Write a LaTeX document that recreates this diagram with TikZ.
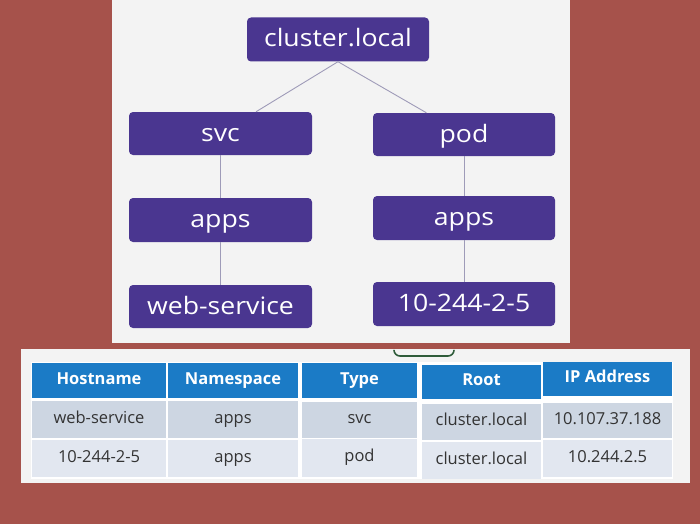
\documentclass[tikz,border=0pt]{standalone}
\usepackage{fontspec}
\setmainfont{Open Sans}
\newfontfamily\treefont[FakeStretch=1.11]{Open Sans}
\definecolor{bgred}{HTML}{A6524B}
\definecolor{panel}{HTML}{F3F3F3}
\definecolor{tpurple}{HTML}{4A3690}
\definecolor{tline}{HTML}{9E9BB8}
\definecolor{hblue}{HTML}{1B7BC6}
\definecolor{rowa}{HTML}{CDD6E2}
\definecolor{rowb}{HTML}{E2E7F0}
\definecolor{tdark}{HTML}{333333}
\definecolor{gdark}{HTML}{2F5C3A}
\tikzset{
  tnode/.style={fill=tpurple, rounded corners=4pt, text=white, inner sep=0pt,
    minimum width=182pt, minimum height=44pt,
    font=\treefont\fontsize{24}{28}\selectfont,
    text height=18pt, text depth=3pt},
  tedge/.style={draw=tline, line width=0.9pt},
  cell/.style 2 args={inner sep=0pt, minimum width=#1, minimum height=#2,
    text height=12pt, text depth=4.5pt},
  hcell/.style={fill=hblue, text=white, font=\bfseries\fontsize{16.5}{19}\selectfont},
  acell/.style={fill=rowa, text=tdark, font=\fontsize{16.5}{19}\selectfont},
  bcell/.style={fill=rowb, text=tdark, font=\fontsize{16.5}{19}\selectfont},
}
\begin{document}
\begin{tikzpicture}[x=1pt,y=-1pt]
\useasboundingbox (0,0) rectangle (700,524);
\fill[bgred] (0,0) rectangle (700,524);
\fill[panel] (112,0) rectangle (570,343);
\fill[panel] (21,349) rectangle (690,483);
\fill[white] (31,362) rectangle (673,479);

% tree
\node[tnode] (root) at (338,39.5) {cluster.local};
\node[tnode, minimum width=183pt, minimum height=43pt] (svc) at (220.5,133.5) {svc};
\node[tnode, minimum height=43pt] (pod) at (464,134.5) {pod};
\node[tnode, minimum width=183pt] (appsL) at (220.5,220) {apps};
\node[tnode] (appsR) at (464,218) {apps};
\node[tnode, minimum width=183pt, minimum height=43pt] (web) at (220.5,306.5) {web-service};
\node[tnode] (ip) at (464,304) {10-244-2-5};
\draw[tedge] (root.south) -- (svc);
\draw[tedge] (root.south) -- (pod);
\draw[tedge] (svc) -- (appsL);
\draw[tedge] (appsL) -- (web);
\draw[tedge] (pod) -- (appsR);
\draw[tedge] (appsR) -- (ip);

% partial green shape
\draw[gdark, line width=1.6pt, rounded corners=6pt] (394,349.8) -- (394,356) -- (454,356) -- (454,349.8);

% table header
\node[cell={134pt}{35pt}, hcell] (h1) at (99,380.5) {Hostname};
\node[cell={130pt}{35pt}, hcell] (h2) at (233,380.5) {Namespace};
\node[cell={115pt}{35pt}, hcell] (h3) at (359.5,380.5) {Type};
\node[cell={119pt}{34pt}, hcell] (h4) at (481.5,382) {Root};
\node[cell={129pt}{34pt}, hcell] (h5) at (607.5,379) {IP Address};
% row 1
\node[cell={134pt}{37pt}, acell] (a1) at (99,419.5) {web-service};
\node[cell={130pt}{37pt}, acell] (a2) at (233,419.5) {apps};
\node[cell={115pt}{36pt}, acell] (a3) at (359.5,419.5) {svc};
\node[cell={119pt}{36pt}, acell] (a4) at (481.5,422) {cluster.local};
\node[cell={129pt}{35pt}, acell] (a5) at (607.5,420.5) {10.107.37.188};
% row 2
\node[cell={134pt}{37pt}, bcell] (b1) at (99,458.5) {10-244-2-5};
\node[cell={130pt}{37pt}, bcell] (b2) at (233,458.5) {apps};
\node[cell={115pt}{38pt}, bcell] (b3) at (359.5,458) {pod};
\node[cell={119pt}{37pt}, bcell] (b4) at (481.5,460.5) {cluster.local};
\node[cell={129pt}{37pt}, bcell] (b5) at (607.5,458.5) {10.244.2.5};
\end{tikzpicture}
\end{document}
